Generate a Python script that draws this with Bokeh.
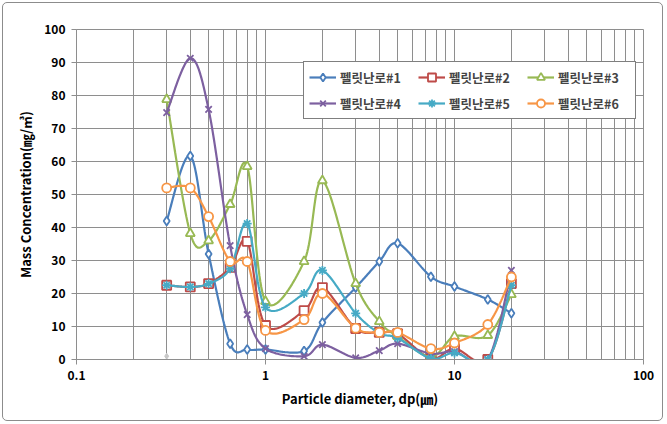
import numpy as np
from bokeh.plotting import figure
from bokeh.models import FixedTicker, Legend, LegendItem, Range1d, InlineStyleSheet
from bokeh.embed import file_html
from bokeh.resources import INLINE

# ---- data ----
diameters = [0.3, 0.4, 0.5, 0.65, 0.8, 1.0, 1.6, 2.0, 3.0, 4.0, 5.0, 7.5, 10, 15, 20]
stove1 = [42.0, 61.7, 32.0, 4.8, 3.0, 3.0, 2.6, 11.2, 21.8, 29.7, 35.2, 25.1, 22.1, 18.2, 14.0]
stove2 = [22.5, 22.0, 23.0, 27.9, 35.8, 10.3, 14.8, 21.8, 9.4, 8.2, 7.8, 0.3, 3.3, 0.0, 23.0]
stove3 = [78.8, 38.2, 36.0, 47.0, 58.5, 17.6, 29.7, 54.2, 23.0, 11.5, 7.0, 0.8, 7.0, 7.3, 19.7]
stove4 = [74.8, 91.3, 75.8, 34.5, 13.6, 3.3, 1.0, 4.5, 0.5, 2.7, 4.8, 1.8, 2.4, 0.0, 27.0]
stove5 = [22.5, 22.0, 23.0, 27.5, 41.2, 15.8, 20.0, 27.0, 14.0, 8.0, 6.5, 0.3, 2.0, 0.0, 22.5]
stove6 = [52.0, 52.0, 43.3, 29.7, 29.7, 8.8, 12.1, 20.0, 9.5, 8.2, 8.2, 3.3, 5.0, 10.6, 25.0]
labels = ["펠릿난로#1", "펠릿난로#2", "펠릿난로#3", "펠릿난로#4", "펠릿난로#5", "펠릿난로#6"]
extra_x = [0.3]
extra_y = [1.0]
x_ticks = [0.1, 1, 10, 100]
y_ticks = [0, 10, 20, 30, 40, 50, 60, 70, 80, 90, 100]

series = [stove1, stove2, stove3, stove4, stove5, stove6]
colors = ["#4A7EBB", "#BE4B48", "#98B954", "#7D60A0", "#46AAC5", "#F79646"]
markers = ["diamond", "square", "triangle", "x", "asterisk", "circle"]
msizes = [9, 9, 9, 9, 9, 9]


def smooth(xs, ys, n=24):
    u = np.log10(np.asarray(xs, dtype=float))
    y = np.asarray(ys, dtype=float)
    pts = np.column_stack([u, y])
    out = []
    m = len(pts)
    for i in range(m - 1):
        p0 = pts[i - 1] if i > 0 else pts[i]
        p1 = pts[i]
        p2 = pts[i + 1]
        p3 = pts[i + 2] if i + 2 < m else pts[i + 1]
        c1 = p1 + (p2 - p0) / 6.0
        c2 = p2 - (p3 - p1) / 6.0
        t = np.linspace(0, 1, n, endpoint=(i == m - 2))[:, None]
        seg = ((1 - t) ** 3) * p1 + 3 * ((1 - t) ** 2) * t * c1 + 3 * (1 - t) * t ** 2 * c2 + t ** 3 * p2
        out.append(seg)
    out = np.vstack(out)
    return 10 ** out[:, 0], out[:, 1]


FONT = "Noto Sans CJK KR"
GRID = "#8e8e8e"

p = figure(width=667, height=424, x_axis_type="log",
           x_range=Range1d(0.1, 100), y_range=Range1d(0, 100),
           output_backend="svg", toolbar_location=None,
           min_border_left=76, min_border_right=24, min_border_top=29, min_border_bottom=65)
p.outline_line_color = GRID
p.background_fill_color = "white"
p.border_fill_color = "white"
p.stylesheets = [InlineStyleSheet(css=":host::after { content: ''; position: absolute; "
                                      "left: 2px; top: 2px; width: 659px; height: 417px; "
                                      "border: 1px solid #8c8c8c; border-radius: 5px; "
                                      "pointer-events: none; z-index: 100; }")]

p.xaxis.ticker = FixedTicker(ticks=x_ticks,
                             minor_ticks=[a * b for b in (0.1, 1, 10) for a in range(2, 10)])
p.yaxis.ticker = FixedTicker(ticks=y_ticks)
p.xaxis.major_label_overrides = {0.1: "0.1", 1: "1", 10: "10", 100: "100"}

for ax in (p.xaxis[0], p.yaxis[0]):
    ax.axis_line_color = GRID
    ax.major_tick_line_color = GRID
    ax.minor_tick_line_color = None
    ax.major_tick_out = 5
    ax.major_tick_in = 0
    ax.major_label_text_font = FONT
    ax.major_label_text_font_style = "bold"
    ax.major_label_text_font_size = "12px"
    ax.major_label_text_color = "#000000"
    ax.axis_label_text_font = FONT
    ax.axis_label_text_font_style = "bold"
    ax.axis_label_text_font_size = "13px"
    ax.axis_label_text_color = "#000000"

p.xaxis.axis_label = "Particle diameter, dp(㎛)"
p.yaxis.axis_label = "Mass Concentration(㎎/㎥)"
p.xaxis.major_label_standoff = 6
p.yaxis.major_label_standoff = 6
p.xaxis.axis_label_standoff = 6
p.yaxis.axis_label_standoff = 6

p.xgrid.grid_line_color = GRID
p.xgrid.minor_grid_line_color = GRID
p.ygrid.grid_line_color = GRID

items = []
for ys, col, mk, ms, lab in zip(series, colors, markers, msizes, labels):
    sx, sy = smooth(diameters, ys)
    lr = p.line(sx, sy, line_color=col, line_width=2.2)
    sr = p.scatter(diameters, ys, marker=mk, size=ms, line_color=col,
                   fill_color="white", line_width=1.8)
    items.append(LegendItem(label=lab, renderers=[lr, sr]))

p.scatter(extra_x, extra_y, marker="diamond", size=6, line_color="#c8c8c8",
          fill_color="#c8c8c8")

legend = Legend(items=items, orientation="horizontal", ncols=3,
                location=(227, 240))
legend.label_text_font = FONT
legend.label_text_font_style = "bold"
legend.label_text_font_size = "12.5px"
legend.label_width = 72
legend.label_standoff = 4
legend.glyph_width = 27
legend.glyph_height = 20
legend.label_height = 20
legend.spacing = 6
legend.padding = 5
legend.margin = 0
legend.border_line_color = "black"
legend.border_line_width = 1.5
legend.background_fill_color = "white"
legend.background_fill_alpha = 1
p.add_layout(legend, "center")

open("out.html", "w").write(file_html(p, INLINE))
